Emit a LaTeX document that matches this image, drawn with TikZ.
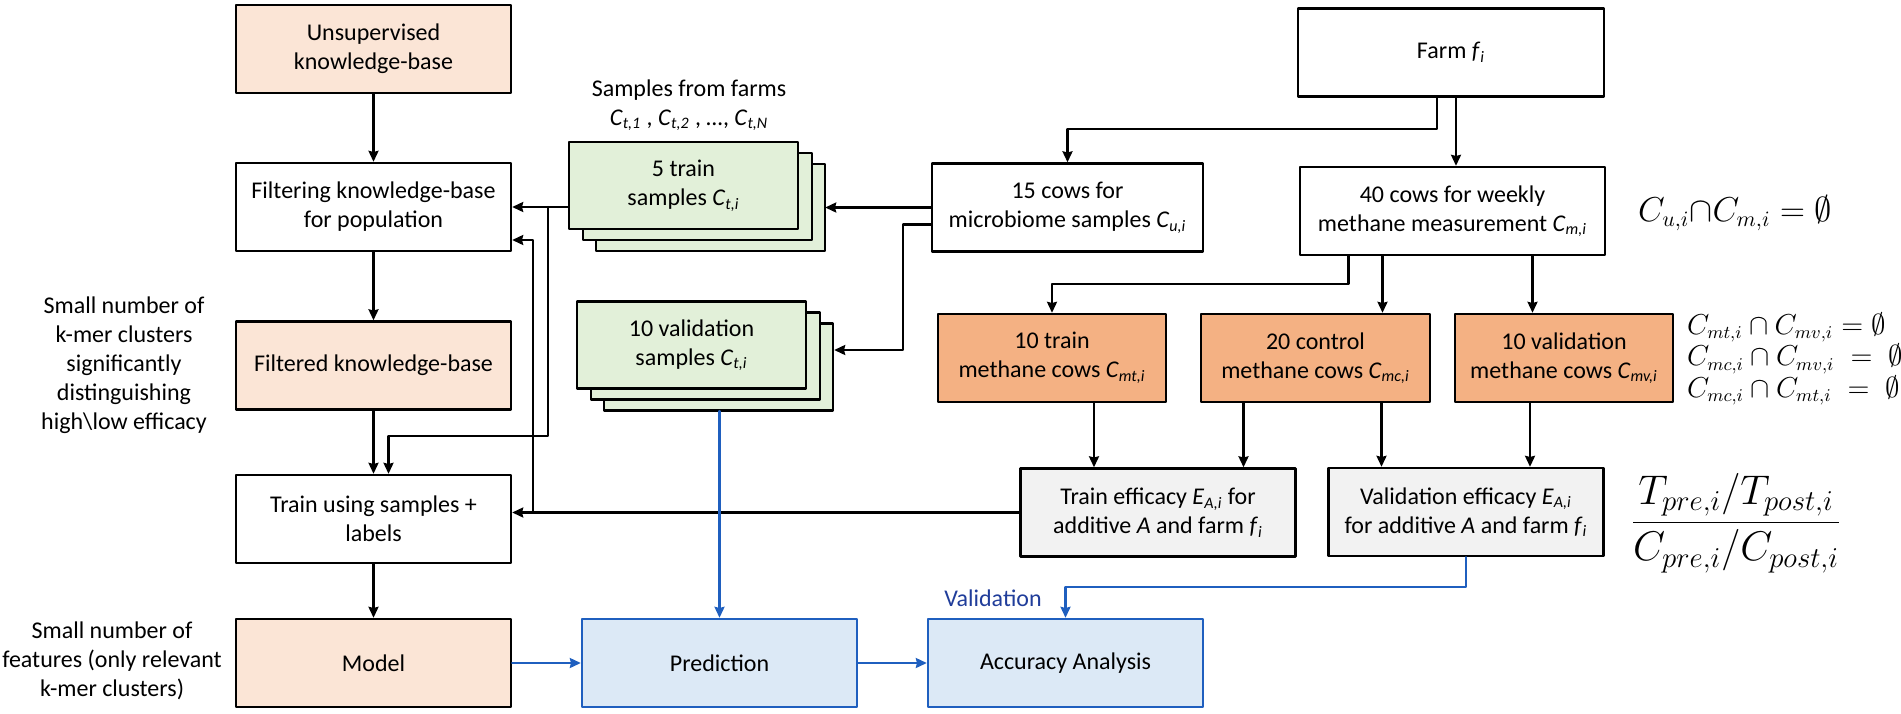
\documentclass[tikz,border=0pt]{standalone}
\usepackage{fontspec}
\setmainfont{Carlito}
\usetikzlibrary{shadows,arrows.meta}
\definecolor{peach}{HTML}{FBE5D6}
\definecolor{methane}{HTML}{F4B183}
\definecolor{sgreen}{HTML}{E2F0D9}
\definecolor{effgrey}{HTML}{F2F2F2}
\definecolor{predblue}{HTML}{DCE9F6}
\definecolor{lineblue}{HTML}{1F5FBF}
\definecolor{textblue}{HTML}{203D9A}
\newcommand{\cv}[2]{\textit{#1}\textsubscript{\textit{#2}}}
\begin{document}
\begin{tikzpicture}[x=0.5pt,y=-0.5pt,line cap=round,line join=round,>={Stealth[length=5.5pt,width=5pt,inset=0.6pt]},
  font=\fontsize{12}{14.5}\selectfont,
  box/.style={draw,line width=1.2pt,align=center,inner sep=2pt,minimum width=137.5pt,minimum height=44pt},
  stack/.style={box,fill=sgreen,minimum width=114.5pt,minimum height=43.5pt,
    copy shadow={shadow xshift=13.5pt,shadow yshift=-11pt,fill=sgreen,draw=black,line width=1.2pt},
    copy shadow={shadow xshift=7pt,shadow yshift=-5.5pt,fill=sgreen,draw=black,line width=1.2pt}},
  flow/.style={->,line width=1.1pt},
  pflow/.style={->,line width=1.1pt,draw=lineblue}]
\useasboundingbox (0,0) rectangle (1901,713);
% left column
\node[box,fill=peach] (unsup) at (373.5,49) {Unsupervised\\knowledge-base};
\node[box] (filt) at (373.5,207) {Filtering knowledge-base\\for population};
\node[box,fill=peach] (filtd) at (373.5,365.5) {Filtered knowledge-base};
\node[box] (trn) at (373.5,519) {Train using samples +\\labels};
\node[box,fill=peach] (model) at (373.5,663) {Model};
\node[align=center] (note1) at (124,365) {Small number of\\k-mer clusters\\significantly\\distinguishing\\high\textbackslash low efficacy};
\node[align=center] (note2) at (112,661) {Small number of\\features (only relevant\\k-mer clusters)};
% samples
\node[align=center] (farms) at (689,105) {Samples from farms\\\cv{C}{t,1} , \cv{C}{t,2} , \textit{…}, \cv{C}{t,N}};
\node[stack] (tsamp) at (683.5,185.5) {5 train\\samples \cv{C}{t,i}};
\node[stack] (vsamp) at (691.5,345) {10 validation\\samples \cv{C}{t,i}};
\node[box,draw=lineblue,fill=predblue] (pred) at (719.5,663) {Prediction};
\node[box,draw=lineblue,fill=predblue] (acc) at (1065.5,663) {Accuracy Analysis};
\node[text=textblue] (vlabel) at (993,598) {Validation};
% farm and cows
\node[box,minimum width=135.5pt] (cows) at (1067.5,207.5) {15 cows for\\microbiome samples \cv{C}{u,i}};
\node[box,minimum width=153pt] (farm) at (1451,52.5) {Farm \cv{f}{i}};
\node[box,minimum width=152.5pt] (meas) at (1452.5,211) {40 cows for weekly\\methane measurement \cv{C}{m,i}};
\node[box,fill=methane,minimum width=114pt] (mtrain) at (1052,358) {10 train\\methane cows \cv{C}{mt,i}};
\node[box,fill=methane,minimum width=114.5pt] (mctrl) at (1315.5,358) {20 control\\methane cows \cv{C}{mc,i}};
\node[box,fill=methane,minimum width=109pt] (mval) at (1564,358) {10 validation\\methane cows \cv{C}{mv,i}};
\node[box,fill=effgrey] (etrain) at (1158,512.5) {Train efficacy \cv{E}{A,i} for\\additive \textit{A} and farm \cv{f}{i}};
\node[box,fill=effgrey] (eval) at (1466,512) {Validation efficacy \cv{E}{A,i}\\for additive \textit{A} and farm \cv{f}{i}};
% equations
\node[font=\fontsize{16}{19}\selectfont] (disj) at (1735,213) {$C_{u,i}{\cap}C_{m,i}=\emptyset$};
\node[align=left,font=\fontsize{13.5}{14.5}\selectfont] (sets) at (1795,359) {$C_{mt,i}\cap C_{mv,i}=\emptyset$\\$C_{mc,i}\cap C_{mv,i}\;=\;\emptyset$\\$C_{mc,i}\cap C_{mt,i}\;=\;\emptyset$};
\node[font=\fontsize{21}{25}\selectfont] (ratio) at (1736,523) {$\displaystyle\frac{T_{pre,i}/T_{post,i}}{C_{pre,i}/C_{post,i}}$};
% connectors
\coordinate (jt) at (548,207);
\coordinate (jl) at (533,512.5);
\draw[flow] (unsup) -- (filt);
\draw[flow] (filt) -- (filtd);
\draw[flow] (filtd) -- (trn);
\draw[flow] (trn) -- (model);
\draw[flow] (tsamp.west |- filt.east) -- (filt.east);
\draw[flow] (jt) |- ([xshift=7.5pt,yshift=19pt]trn.north) -- ([xshift=7.5pt]trn.north);
\draw[flow] (etrain.west) -- (etrain.west -| trn.east);
\draw[flow] (jl) |- ([yshift=-16.5pt]filt.east);
\draw[flow] (cows.west) -- ([xshift=13pt]tsamp.east |- cows.west);
\draw[flow] ([yshift=-8.5pt]cows.west) -- ++(-14pt,0) |- ([xshift=13.5pt,yshift=-2.5pt]vsamp.east);
\draw[flow] ([xshift=-7pt]farm.south) |- ([yshift=16.5pt]cows.north) -- (cows.north);
\draw[flow] ([xshift=2.5pt]farm.south) -- ([xshift=2.5pt]farm.south |- meas.north);
\draw[flow] ([xshift=-52pt]meas.south) |- ([yshift=14.5pt]mtrain.north) -- (mtrain.north);
\draw[flow] ([xshift=-35pt]meas.south) -- ([xshift=-35pt]meas.south |- mctrl.north);
\draw[flow] ([xshift=40pt]meas.south) -- ([xshift=40pt]meas.south |- mval.north);
\draw[flow] ([xshift=21pt]mtrain.south) -- ([xshift=21pt]mtrain.south |- etrain.north);
\draw[flow] ([xshift=-36pt]mctrl.south) -- ([xshift=-36pt]mctrl.south |- etrain.north);
\draw[flow] ([xshift=33pt]mctrl.south) -- ([xshift=33pt]mctrl.south |- eval.north);
\draw[flow] ([xshift=-17pt]mval.south) -- ([xshift=-17pt]mval.south |- eval.north);
% blue
\draw[pflow] (model) -- (pred);
\draw[pflow] (pred) -- (acc);
\draw[pflow] (pred.north |- 0,411) -- (pred.north);
\draw[pflow] (eval.south) |- ([yshift=15.5pt]acc.north) -- (acc.north);
\end{tikzpicture}
\end{document}
